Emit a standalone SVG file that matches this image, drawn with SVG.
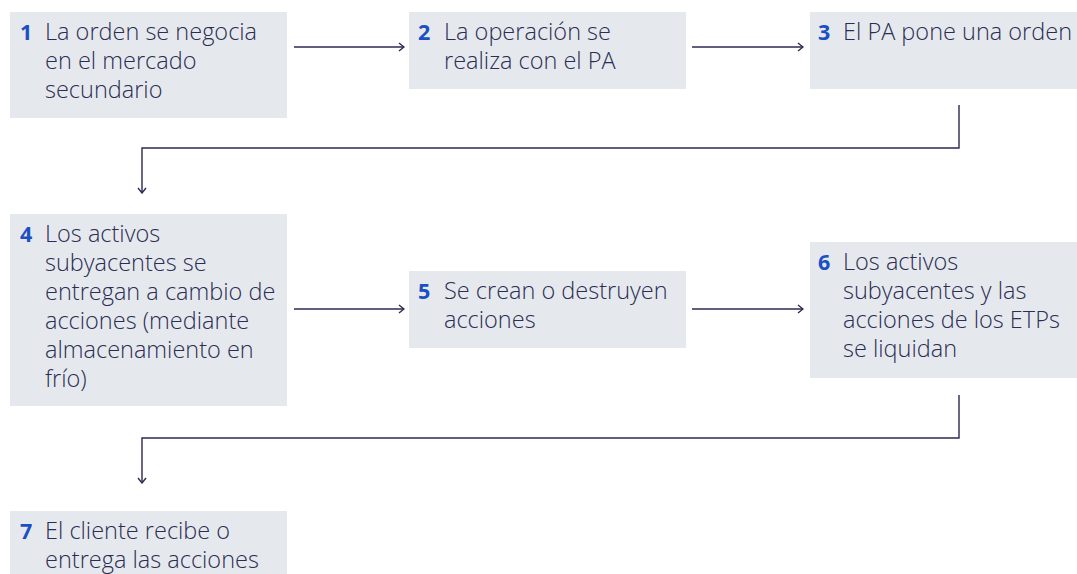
<svg xmlns="http://www.w3.org/2000/svg" width="1077" height="574" viewBox="0 0 1077 574">
<style>
.box{fill:#e5e9ee}
.t{font-family:"Open Sans","Liberation Sans",sans-serif;font-weight:300;font-size:23.5px;fill:#2b2d52}
.n{font-family:"Open Sans","Liberation Sans",sans-serif;font-weight:700;font-size:21.5px;fill:#1b4fc4}
.c{fill:none;stroke:#2b2a52;stroke-width:1.4}
</style>
<defs>
<marker id="ah" viewBox="0 0 10 10" refX="9" refY="5" markerWidth="10" markerHeight="10" markerUnits="userSpaceOnUse" orient="auto">
<path d="M4,1 L9,5 L4,9" fill="none" stroke="#2b2a52" stroke-width="1.4"/>
</marker>
</defs>
<rect width="1077" height="574" fill="#ffffff"/>
<g id="node1"><rect class="box" x="10" y="12" width="277" height="106"/>
<text class="n" x="20" y="40">1</text>
<text class="t"><tspan x="45" y="40">La orden se negocia</tspan><tspan x="45" y="69">en el mercado</tspan><tspan x="45" y="98">secundario</tspan></text></g>
<g id="node2"><rect class="box" x="409" y="12" width="277" height="77"/>
<text class="n" x="418" y="40">2</text>
<text class="t"><tspan x="444" y="40">La operación se</tspan><tspan x="444" y="69">realiza con el PA</tspan></text></g>
<g id="node3"><rect class="box" x="810" y="12" width="267" height="77"/>
<text class="n" x="818" y="40">3</text>
<text class="t"><tspan x="843" y="40">El PA pone una orden</tspan></text></g>
<g id="node4"><rect class="box" x="10" y="214" width="277" height="192"/>
<text class="n" x="20" y="242">4</text>
<text class="t"><tspan x="45" y="242">Los activos</tspan><tspan x="45" y="271">subyacentes se</tspan><tspan x="45" y="300">entregan a cambio de</tspan><tspan x="45" y="329">acciones (mediante</tspan><tspan x="45" y="358">almacenamiento en</tspan><tspan x="45" y="387">frío)</tspan></text></g>
<g id="node5"><rect class="box" x="409" y="271" width="277" height="77"/>
<text class="n" x="418" y="299">5</text>
<text class="t"><tspan x="444" y="299">Se crean o destruyen</tspan><tspan x="444" y="328">acciones</tspan></text></g>
<g id="node6"><rect class="box" x="810" y="242" width="267" height="136"/>
<text class="n" x="818" y="270">6</text>
<text class="t"><tspan x="843" y="270">Los activos</tspan><tspan x="843" y="299">subyacentes y las</tspan><tspan x="843" y="328">acciones de los ETPs</tspan><tspan x="843" y="357">se liquidan</tspan></text></g>
<g id="node7"><rect class="box" x="10" y="511" width="277" height="63"/>
<text class="n" x="20" y="539">7</text>
<text class="t"><tspan x="45" y="539">El cliente recibe o</tspan><tspan x="45" y="568">entrega las acciones</tspan></text></g>
<g id="connectors">
<path class="c" d="M294,47 H404" marker-end="url(#ah)"/>
<path class="c" d="M692,47 H803" marker-end="url(#ah)"/>
<path class="c" d="M959,105 V148 H142 V193" marker-end="url(#ah)"/>
<path class="c" d="M294,309 H404" marker-end="url(#ah)"/>
<path class="c" d="M692,309 H803" marker-end="url(#ah)"/>
<path class="c" d="M959,395 V438 H142 V483" marker-end="url(#ah)"/>
</g>
</svg>
